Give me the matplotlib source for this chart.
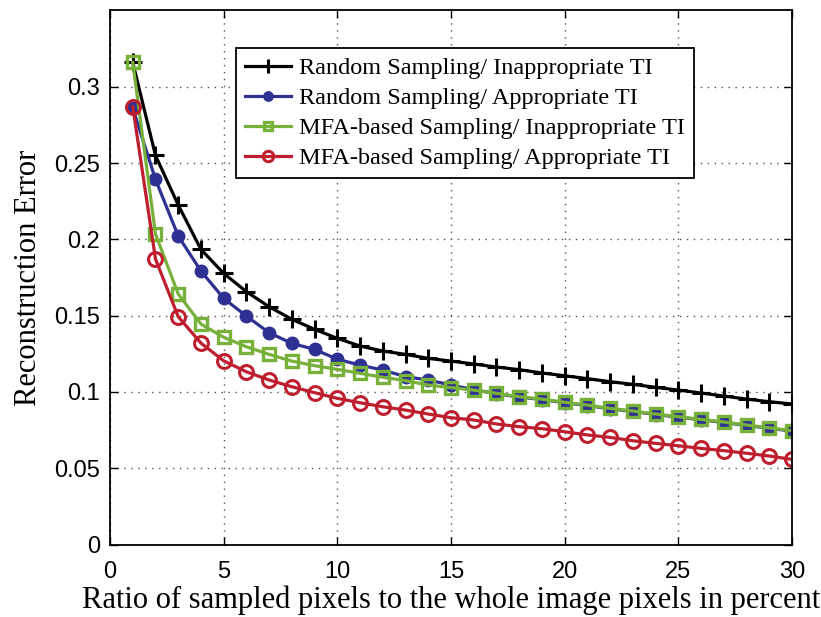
import numpy as np
import matplotlib
matplotlib.use('Agg')
import matplotlib.pyplot as plt

# sampling ratio in percent
ratio = list(range(1, 31))

random_inappropriate = [0.316, 0.255, 0.2225, 0.1934, 0.1777, 0.1657, 0.1558, 0.1476, 0.1410, 0.1351,
                        0.1301, 0.1268, 0.1246, 0.1220, 0.1202, 0.1183, 0.1163, 0.1146, 0.1124, 0.1106,
                        0.1087, 0.1067, 0.1050, 0.1030, 0.1012, 0.0993, 0.0973, 0.0953, 0.0936, 0.0921]
random_appropriate = [0.286, 0.2393, 0.2022, 0.1792, 0.1613, 0.1497, 0.1388, 0.1318, 0.1279, 0.1214,
                      0.1176, 0.1143, 0.1100, 0.1078, 0.1045, 0.1015, 0.0988, 0.0966, 0.0950, 0.0929,
                      0.0911, 0.0889, 0.0872, 0.0852, 0.0835, 0.0817, 0.0800, 0.0780, 0.0762, 0.0743]
mfa_inappropriate = [0.316, 0.2035, 0.1642, 0.1445, 0.1358, 0.1296, 0.1246, 0.1202, 0.1172, 0.1148,
                     0.1122, 0.1096, 0.1074, 0.1045, 0.1028, 0.1012, 0.0991, 0.0969, 0.0953, 0.0932,
                     0.0914, 0.0892, 0.0875, 0.0855, 0.0838, 0.0820, 0.0803, 0.0783, 0.0765, 0.0746]
mfa_appropriate = [0.287, 0.1871, 0.1493, 0.1320, 0.1204, 0.1132, 0.1078, 0.1034, 0.0995, 0.0958,
                   0.0929, 0.0903, 0.0881, 0.0855, 0.0831, 0.0816, 0.0790, 0.0772, 0.0759, 0.0739,
                   0.0718, 0.0702, 0.0680, 0.0663, 0.0647, 0.0630, 0.0615, 0.0598, 0.0580, 0.0558]

labels = ['Random Sampling/ Inappropriate TI',
          'Random Sampling/ Appropriate TI',
          'MFA-based Sampling/ Inappropriate TI',
          'MFA-based Sampling/ Appropriate TI']

xticks = [0, 5, 10, 15, 20, 25, 30]
yticks = [0, 0.05, 0.1, 0.15, 0.2, 0.25, 0.3]
ytick_labels = ['0', '0.05', '0.1', '0.15', '0.2', '0.25', '0.3']

serif = ['Liberation Serif', 'DejaVu Serif']
sans = ['Liberation Sans', 'DejaVu Sans']

fig = plt.figure(figsize=(8.21, 6.17), dpi=100)
ax = fig.add_axes([0.134, 0.1175, 0.8307, 0.8655])

lw = 2.3
ax.plot(ratio, random_inappropriate, '-', color='black', lw=lw, marker='+',
        ms=13, mew=2.2, label=labels[0])
ax.plot(ratio, random_appropriate, '-', color='#2e3192', lw=lw, marker='o',
        ms=9, mfc='#2e3192', mec='#2e3192', label=labels[1])
ax.plot(ratio, mfa_inappropriate, '-', color='#77b13a', lw=lw, marker='s',
        ms=8, mfc='none', mec='#77b13a', mew=2.4, label=labels[2])
ax.plot(ratio, mfa_appropriate, '-', color='#bf1e2e', lw=lw, marker='o',
        ms=10, mfc='none', mec='#bf1e2e', mew=2.2, label=labels[3])

ax.set_xlim(0, 30)
ax.set_ylim(0, 0.35)
ax.set_xticks(xticks)
ax.set_yticks(yticks)
ax.set_xticklabels([str(t) for t in xticks], family=sans, fontsize=17)
ax.set_yticklabels(ytick_labels, family=sans, fontsize=17)

ax.tick_params(direction='in', top=True, right=True, length=6, width=1)
ax.tick_params(axis='x', pad=12)
ax.tick_params(axis='y', pad=7)
ax.grid(True, linestyle=(0, (1, 4)), color='#555555', linewidth=1.0)
for s in ax.spines.values():
    s.set_linewidth(1.3)

ax.set_xlabel('Ratio of sampled pixels to the whole image pixels in percent',
              family=serif, fontsize=22, labelpad=2)
ax.set_ylabel('Reconstruction Error', family=serif, fontsize=22, labelpad=8)

leg = ax.legend(loc='upper right', bbox_to_anchor=(0.856, 0.93), fancybox=False,
                edgecolor='black', framealpha=1, borderpad=0.38, labelspacing=0.33,
                handlelength=1.9, handletextpad=0.3, borderaxespad=0,
                prop={'family': serif, 'size': 17.5}, markerscale=0.75)
leg.get_frame().set_linewidth(1.3)

plt.savefig('out.png', dpi=100)
